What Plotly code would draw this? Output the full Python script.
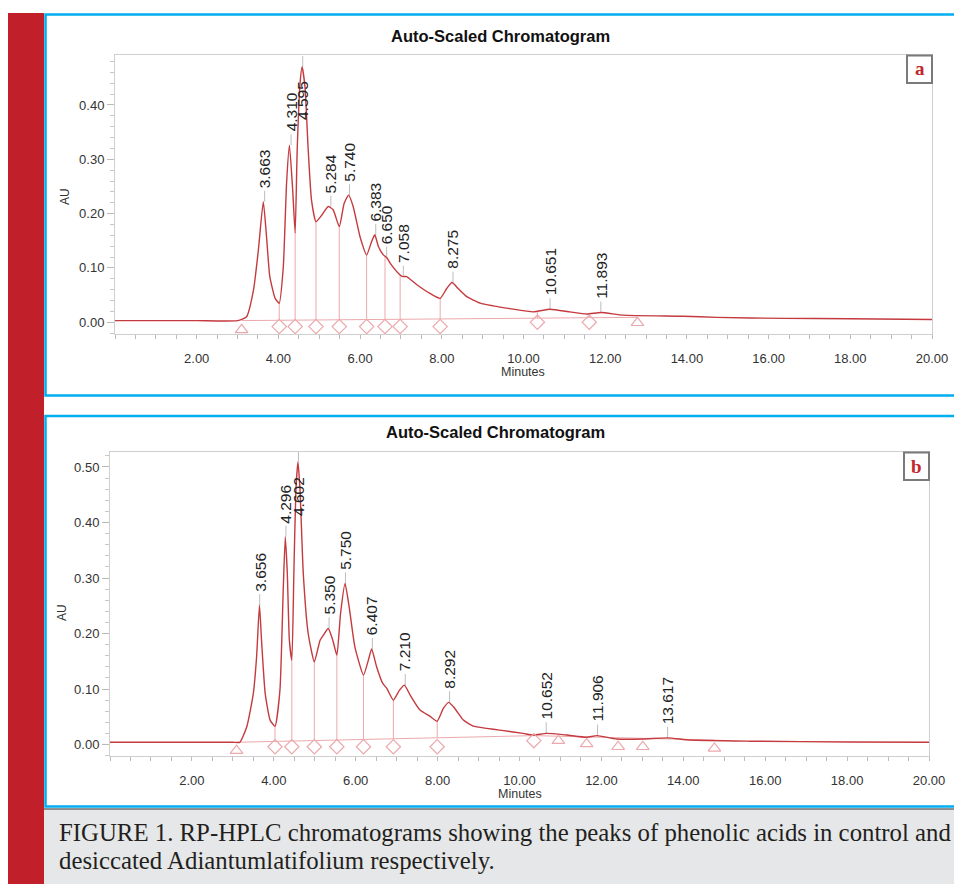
import numpy as np
import plotly.graph_objects as go

# ---------------- data ----------------
# Panel a (control)
a_time = [0.0, 1.0, 2.0, 3.0, 3.22, 3.39, 3.51, 3.63, 3.71, 3.79, 3.92,
          4.02, 4.12, 4.20, 4.27, 4.35, 4.41, 4.46, 4.53, 4.58, 4.65, 4.73, 4.81, 4.92,
          5.06, 5.22, 5.34, 5.49, 5.61, 5.72, 5.83,
          6.00, 6.16, 6.28, 6.36, 6.45, 6.57, 6.65, 6.77, 6.98,
          7.05, 7.14, 7.39, 7.71, 7.96,
          8.12, 8.25, 8.40, 8.61, 8.94,
          9.26, 9.67, 10.24, 10.65, 11.14, 11.55, 11.90,
          12.44, 13.91, 14.73, 16.36, 17.99, 20.0]
a_au = [0.003, 0.003, 0.003, 0.003, 0.010, 0.059, 0.133, 0.222, 0.157, 0.084, 0.044,
        0.035, 0.102, 0.256, 0.326, 0.243, 0.164, 0.317, 0.440, 0.470, 0.434, 0.317, 0.225, 0.185,
        0.197, 0.213, 0.207, 0.176, 0.219, 0.234, 0.213,
        0.157, 0.124, 0.148, 0.161, 0.139, 0.124, 0.119, 0.105, 0.087,
        0.084, 0.084, 0.069, 0.053, 0.044,
        0.062, 0.073, 0.062, 0.047, 0.035,
        0.030, 0.025, 0.019, 0.024, 0.019, 0.015, 0.018,
        0.013, 0.011, 0.009, 0.007, 0.0065, 0.005]
a_peak_rt = [3.663, 4.310, 4.595, 5.284, 5.740, 6.383, 6.650, 7.058, 8.275, 10.651, 11.893]
a_peak_au = [0.222, 0.326, 0.470, 0.213, 0.234, 0.161, 0.119, 0.084, 0.073, 0.024, 0.018]
a_diamond_t = [4.02, 4.41, 4.92, 5.49, 6.16, 6.61, 6.98, 7.96, 10.34, 11.61]
a_diamond_au = [-0.008, -0.008, -0.008, -0.008, -0.008, -0.008, -0.008, -0.008, 0.000, 0.000]
a_triangle_t = [3.10, 12.79]
a_triangle_au = [-0.014, -0.001]
a_base_t = [3.10, 12.79]
a_base_au = [0.003, 0.009]

# Panel b (desiccated)
b_time = [0.0, 1.0, 2.0, 3.0, 3.17, 3.34, 3.50, 3.58, 3.65, 3.70, 3.79, 3.91,
          4.03, 4.15, 4.23, 4.28, 4.33, 4.38, 4.44, 4.49, 4.54, 4.59, 4.64, 4.72, 4.84, 4.99,
          5.13, 5.21, 5.33, 5.44, 5.54, 5.63, 5.74, 5.84, 5.98,
          6.19, 6.31, 6.39, 6.51, 6.66, 6.76, 6.92,
          7.07, 7.19, 7.33, 7.57, 7.81, 7.99,
          8.14, 8.27, 8.42, 8.63, 8.87,
          9.20, 9.52, 10.09, 10.34, 10.66, 11.15, 11.64, 11.89,
          12.37, 13.02, 13.62, 14.16, 15.63, 18.07, 20.0]
b_au = [0.004, 0.004, 0.004, 0.004, 0.004, 0.032, 0.092, 0.158, 0.251, 0.188, 0.092, 0.044,
        0.033, 0.098, 0.278, 0.374, 0.308, 0.188, 0.152, 0.308, 0.459, 0.509, 0.459, 0.308, 0.200, 0.149,
        0.188, 0.197, 0.209, 0.188, 0.161, 0.236, 0.290, 0.248, 0.176,
        0.125, 0.152, 0.172, 0.140, 0.110, 0.101, 0.080,
        0.098, 0.107, 0.089, 0.062, 0.051, 0.042,
        0.065, 0.076, 0.065, 0.044, 0.033,
        0.029, 0.026, 0.020, 0.017, 0.020, 0.017, 0.013, 0.016,
        0.010, 0.010, 0.012, 0.008, 0.006, 0.0045, 0.004]
b_peak_rt = [3.656, 4.296, 4.602, 5.350, 5.750, 6.407, 7.210, 8.292, 10.652, 11.906, 13.617]
b_peak_au = [0.251, 0.374, 0.509, 0.209, 0.290, 0.172, 0.107, 0.076, 0.020, 0.016, 0.012]
b_diamond_t = [4.03, 4.44, 4.99, 5.54, 6.19, 6.92, 7.99, 10.35]
b_diamond_au = [-0.004, -0.004, -0.004, -0.004, -0.004, -0.004, -0.004, 0.007]
b_triangle_t = [3.09, 10.95, 11.64, 12.41, 13.01, 14.76]
b_triangle_au = [-0.011, 0.007, 0.001, -0.004, -0.004, -0.007]
b_base_t = [3.09, 10.35, 14.76]
b_base_au = [0.004, 0.016, 0.008]

x_ticks = [2, 4, 6, 8, 10, 12, 14, 16, 18, 20]
a_y_ticks = [0.0, 0.1, 0.2, 0.3, 0.4]
b_y_ticks = [0.0, 0.1, 0.2, 0.3, 0.4, 0.5]

title_text = "Auto-Scaled Chromatogram"
caption_1 = "FIGURE 1. RP-HPLC chromatograms showing the peaks of phenolic acids in control and"
caption_2 = "desiccated Adiantumlatifolium respectively."

# ---------------- styling ----------------
W, H = 954, 884
RED_BAR = "#c1202a"
BLUE = "#00aeef"
TRACE = "#c43a3e"
PINK = "#eba9ad"
GRAY_LINE = "#cfcfcf"
SANS = "Liberation Sans, Arial, sans-serif"
SERIF = "Liberation Serif, Times New Roman, serif"


def px_x(p):
    return p / W


def px_y(p):
    return 1 - p / H


fig = go.Figure()

panels = [
    dict(name="a", xa="x", ya="y", t=a_time, au=a_au, prt=a_peak_rt, pau=a_peak_au,
         dt=a_diamond_t, dau=a_diamond_au, tt=a_triangle_t, tau=a_triangle_au,
         bt=a_base_t, bau=a_base_au, label_override={2: 0.369}),
    dict(name="b", xa="x2", ya="y2", t=b_time, au=b_au, prt=b_peak_rt, pau=b_peak_au,
         dt=b_diamond_t, dau=b_diamond_au, tt=b_triangle_t, tau=b_triangle_au,
         bt=b_base_t, bau=b_base_au, label_override={2: 0.408}),
]

annotations = []
for p in panels:
    xa, ya = p["xa"], p["ya"]
    # integration baseline
    fig.add_trace(go.Scatter(x=p["bt"], y=p["bau"], mode="lines", xaxis=xa, yaxis=ya,
                             line=dict(color=PINK, width=1), hoverinfo="skip", showlegend=False))
    # drop lines at peak boundaries
    dx, dy = [], []
    for t in p["dt"]:
        top = float(np.interp(t, p["t"], p["au"]))
        bot = float(np.interp(t, p["bt"], p["bau"]))
        dx += [t, t, None]
        dy += [bot, top, None]
    fig.add_trace(go.Scatter(x=dx, y=dy, mode="lines", xaxis=xa, yaxis=ya,
                             line=dict(color=PINK, width=1), hoverinfo="skip", showlegend=False))
    # peak tick lines
    tx, ty = [], []
    for rt, h in zip(p["prt"], p["pau"]):
        tx += [rt, rt, None]
        ty += [h, h + 0.02, None]
    fig.add_trace(go.Scatter(x=tx, y=ty, mode="lines", xaxis=xa, yaxis=ya,
                             line=dict(color="#bdbdbd", width=1), hoverinfo="skip", showlegend=False))
    # chromatogram trace
    fig.add_trace(go.Scatter(x=p["t"], y=p["au"], mode="lines", xaxis=xa, yaxis=ya,
                             line=dict(color=TRACE, width=1.4, shape="spline", smoothing=0.5),
                             showlegend=False))
    # markers
    fig.add_trace(go.Scatter(x=p["dt"], y=p["dau"], mode="markers", xaxis=xa, yaxis=ya,
                             marker=dict(symbol="diamond-open", size=11, color=PINK,
                                         line=dict(width=1.2, color=PINK)),
                             showlegend=False))
    fig.add_trace(go.Scatter(x=p["tt"], y=p["tau"], mode="markers", xaxis=xa, yaxis=ya,
                             marker=dict(symbol="triangle-up-open", size=11, color=PINK,
                                         line=dict(width=1.2, color=PINK)),
                             showlegend=False))
    # peak labels
    for i, (rt, h) in enumerate(zip(p["prt"], p["pau"])):
        y = p["label_override"].get(i, h + 0.021)
        annotations.append(dict(x=rt, y=y, xref=xa, yref=ya, text=f"{rt:.3f}",
                                textangle=-90, showarrow=False, xanchor="center",
                                yanchor="bottom", font=dict(family=SANS, size=15.5, color="#222")))

# ---- axes ----
def xaxis(domain, anchor):
    return dict(domain=domain, anchor=anchor, range=[0, 20], tickvals=x_ticks,
                ticktext=[f"{v:.2f}" for v in x_ticks], showgrid=False, zeroline=False,
                showline=True, linecolor=GRAY_LINE, linewidth=1, mirror=True, automargin=False,
                ticks="outside", ticklen=4, tickcolor="#bbbbbb", ticklabelstandoff=8,
                minor=dict(dtick=0.5, tick0=0, ticks="outside", ticklen=4, tickcolor="#bbbbbb"),
                tickfont=dict(family=SANS, size=13, color="#333"), fixedrange=True)


def yaxis(domain, anchor, rng, ticks):
    return dict(domain=domain, anchor=anchor, range=rng, tickvals=ticks,
                ticktext=[f"{v:.2f}" for v in ticks], showgrid=False, zeroline=False,
                showline=True, linecolor=GRAY_LINE, linewidth=1, mirror=True, automargin=False,
                ticks="outside", ticklen=7, tickcolor="#bbbbbb",
                minor=dict(dtick=0.02, tick0=0, ticks="outside", ticklen=4, tickcolor="#c8c8c8"),
                tickfont=dict(family=SANS, size=13, color="#333"), fixedrange=True)


layout_axes = dict(
    xaxis=xaxis([px_x(115), px_x(932)], "y"),
    yaxis=yaxis([px_y(334), px_y(55)], "x", [-0.0217, 0.492], a_y_ticks),
    xaxis2=xaxis([px_x(110), px_x(929)], "y2"),
    yaxis2=yaxis([px_y(756), px_y(452)], "x2", [-0.0207, 0.527], b_y_ticks),
)

shapes = [
    # red side bar
    dict(type="rect", xref="paper", yref="paper", x0=px_x(8), x1=px_x(44), y0=0, y1=px_y(13),
         fillcolor=RED_BAR, line=dict(width=0), layer="below"),
    # caption background
    dict(type="rect", xref="paper", yref="paper", x0=px_x(44), x1=1.0, y0=0, y1=px_y(809),
         fillcolor="#e6e7e8", line=dict(width=0), layer="below"),
    dict(type="line", xref="paper", yref="paper", x0=px_x(44), x1=1.0, y0=px_y(809), y1=px_y(809),
         line=dict(color="#6d6e70", width=1.5)),
    # blue panel frames (open on the right, like the cropped original)
    dict(type="path", xref="paper", yref="paper",
         path=f"M 1,{px_y(14.5)} L {px_x(45.5)},{px_y(14.5)} L {px_x(45.5)},{px_y(395.5)} L 1,{px_y(395.5)}",
         line=dict(color=BLUE, width=2.5)),
    dict(type="path", xref="paper", yref="paper",
         path=f"M 1,{px_y(416)} L {px_x(45.5)},{px_y(416)} L {px_x(45.5)},{px_y(806.5)} L 1,{px_y(806.5)}",
         line=dict(color=BLUE, width=2.5)),
    # panel letter boxes
    dict(type="rect", xref="paper", yref="paper", x0=px_x(907), x1=px_x(932), y0=px_y(83), y1=px_y(55.5),
         fillcolor="white", line=dict(color="#7a7a7a", width=2)),
    dict(type="rect", xref="paper", yref="paper", x0=px_x(904), x1=px_x(929), y0=px_y(480), y1=px_y(452.5),
         fillcolor="white", line=dict(color="#7a7a7a", width=2)),
]

paper_texts = [
    (500, 36, title_text, dict(family=SANS, size=16.5, color="#111", weight="bold"), 0, "center"),
    (496, 432, title_text, dict(family=SANS, size=16.5, color="#111", weight="bold"), 0, "center"),
    (65, 197, "AU", dict(family=SANS, size=12, color="#333"), -90, "center"),
    (62, 612, "AU", dict(family=SANS, size=12, color="#333"), -90, "center"),
    (523, 372, "Minutes", dict(family=SANS, size=12.5, color="#333"), 0, "center"),
    (520, 794, "Minutes", dict(family=SANS, size=12.5, color="#333"), 0, "center"),
    (919.5, 69, "a", dict(family=SERIF, size=19, color="#c1272d", weight="bold"), 0, "center"),
    (916.5, 466, "b", dict(family=SERIF, size=19, color="#c1272d", weight="bold"), 0, "center"),
]
for x, y, txt, font, ang, xanc in paper_texts:
    annotations.append(dict(x=px_x(x), y=px_y(y), xref="paper", yref="paper", text=txt,
                            showarrow=False, font=font, textangle=ang, xanchor=xanc,
                            yanchor="middle"))

for y, txt in [(832, caption_1), (860, caption_2)]:
    annotations.append(dict(x=px_x(57), y=px_y(y), xref="paper", yref="paper", text=txt,
                            showarrow=False, xanchor="left", yanchor="middle",
                            font=dict(family=SERIF, size=24.8, color="#231f20")))

fig.update_layout(
    width=W, height=H, margin=dict(l=0, r=0, t=0, b=0, autoexpand=False),
    paper_bgcolor="white", plot_bgcolor="white", showlegend=False,
    shapes=shapes, annotations=annotations, **layout_axes,
)

fig.write_html(
    "out.html",
    config={"displayModeBar": False},
    post_script="document.body.style.margin='0';document.body.style.padding='0';"
                "document.documentElement.style.overflow='hidden';",
)
